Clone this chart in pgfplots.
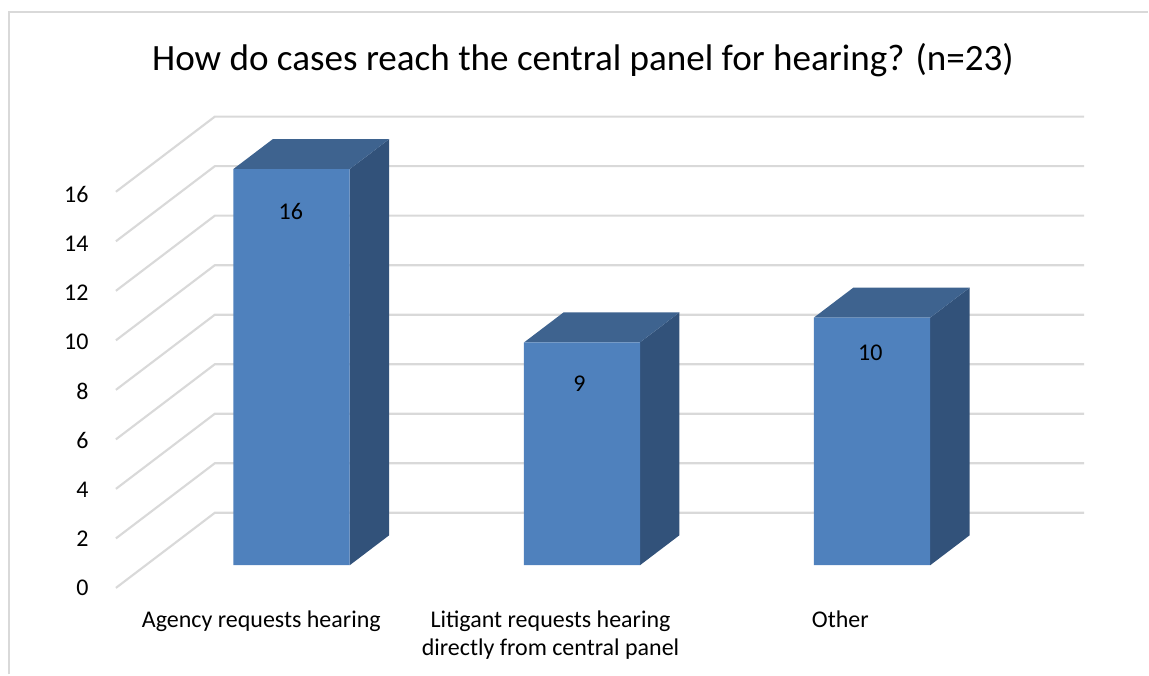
\documentclass[border=0pt]{standalone}
\usepackage{pgfplots}
\pgfplotsset{compat=1.18}
\usepackage{fontspec}
\setmainfont{Carlito}
\definecolor{barfront}{HTML}{4F81BD}
\definecolor{bartop}{HTML}{3E638F}
\definecolor{barside}{HTML}{32527A}
\definecolor{gridc}{HTML}{D9D9D9}
\begin{document}
\begin{tikzpicture}
\begin{axis}[
  scale only axis, width=861.75pt, height=506.25pt,
  xmin=0, xmax=1149, ymin=-4.409, ymax=22.831,
  clip=false,
  axis line style={draw=none},
  tick style={draw=none},
  major tick length=0pt,
  /pgf/number format/assume math mode=true,
  xtick={261.5,551,841},
  xticklabels={{Agency requests hearing},{Litigant requests hearing\\directly from central panel},{Other}},
  x tick label style={align=center, anchor=north, yshift=51.5pt, font=\fontsize{18}{21}\selectfont},
  ytick={-0.928,1.060,3.048,5.036,7.024,9.012,11.0,12.988,14.976},
  yticklabels={0,2,4,6,8,10,12,14,16},
  y tick label style={anchor=east, xshift=70pt, font=\fontsize{18}{21}\selectfont},
  title={How do cases reach the central panel for hearing? (n=23)},
  title style={at={(rel axis cs:0.5078,0.899)}, anchor=center, font=\fontsize{27.85}{33}\selectfont},
  unbounded coords=jump,
]
% frame of the chart area
\addplot[gridc, line width=1.5pt, forget plot] coordinates {(9,-4.409)(9,22.36)(1149,22.36)};
% gridlines: front end, back corner, right end
\addplot[gridc, line width=1.6pt, forget plot] table[row sep=\\] {
x y\\
116 -0.916\\ 215 2.119\\ 1085 2.119\\ nan nan\\
116 1.084\\ 215 4.119\\ 1085 4.119\\ nan nan\\
116 3.084\\ 215 6.119\\ 1085 6.119\\ nan nan\\
116 5.084\\ 215 8.119\\ 1085 8.119\\ nan nan\\
116 7.084\\ 215 10.119\\ 1085 10.119\\ nan nan\\
116 9.084\\ 215 12.119\\ 1085 12.119\\ nan nan\\
116 11.084\\ 215 14.119\\ 1085 14.119\\ nan nan\\
116 13.084\\ 215 16.119\\ 1085 16.119\\ nan nan\\
116 15.084\\ 215 18.119\\ 1085 18.119\\
};
% side faces
\addplot[fill=barside, draw=none, forget plot] coordinates {(350,0)(389.5,1.21)(389.5,17.21)(350,16)};
\addplot[fill=barside, draw=none, forget plot] coordinates {(640.5,0)(680,1.21)(680,10.21)(640.5,9)};
\addplot[fill=barside, draw=none, forget plot] coordinates {(931,0)(970.5,1.21)(970.5,11.21)(931,10)};
% top faces
\addplot[fill=bartop, draw=none, forget plot] coordinates {(233.5,16)(350,16)(389.5,17.21)(273,17.21)};
\addplot[fill=bartop, draw=none, forget plot] coordinates {(524.5,9)(640.5,9)(680,10.21)(564,10.21)};
\addplot[fill=bartop, draw=none, forget plot] coordinates {(814.5,10)(931,10)(970.5,11.21)(854,11.21)};
% front faces
\addplot[ybar, bar width=87.4pt, bar shift=0pt, fill=barfront, draw=none, forget plot] coordinates {(291.75,16)(582.5,9)(872.75,10)};
% data labels
\addplot[only marks, mark=none, forget plot, point meta=explicit symbolic,
  nodes near coords, nodes near coords align={anchor=center},
  nodes near coords style={font=\fontsize{18}{21}\selectfont, text=black, inner sep=0pt}]
  coordinates {(291,14.29)[16] (580,7.34)[9] (871,8.6)[10]};
\end{axis}
\end{tikzpicture}
\end{document}
